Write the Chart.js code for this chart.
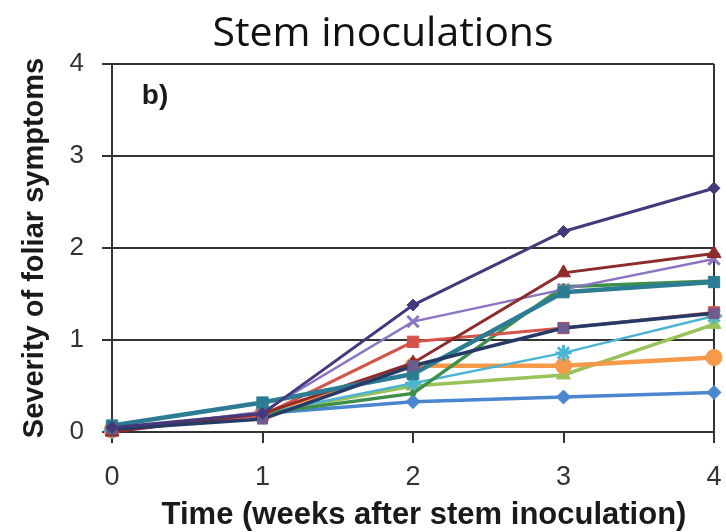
<!DOCTYPE html>
<html>
<head>
<meta charset="utf-8">
<script src="https://cdn.jsdelivr.net/npm/chart.js@4.4.1/dist/chart.umd.min.js"></script>
<style>
  html, body { margin: 0; padding: 0; background: #fff; }
  #wrap { width: 726px; height: 532px; }
</style>
</head>
<body>
<div id="wrap"><canvas id="ctx" width="726" height="532"></canvas></div>
<script>
// weeks after stem inoculation
const weeks = [0, 1, 2, 3, 4];
const yTicks = [0, 1, 2, 3, 4];

// severity values, one array per line
const navyDiamond = [0.05, 0.2, 1.38, 2.18, 2.65];
const navySquare = [0.03, 0.14, 0.72, 1.13, 1.29];
const tealSquare = [0.07, 0.32, 0.63, 1.52, 1.63];
const maroonTriangle = [0.0, 0.2, 0.75, 1.73, 1.94];
const purpleCross = [0.02, 0.22, 1.2, 1.55, 1.88];
const redSquare = [0.02, 0.18, 0.98, 1.13, 1.3];
const greenLine = [0.02, 0.2, 0.42, 1.58, 1.64];
const cyanStar = [0.02, 0.2, 0.53, 0.86, 1.26];
const orangeCircle = [0.02, 0.2, 0.72, 0.72, 0.81];
const limeTriangle = [0.02, 0.2, 0.5, 0.62, 1.17];
const blueDiamond = [0.02, 0.2, 0.33, 0.38, 0.43];

const toPoints = (vals) => vals.map((v, i) => ({ x: weeks[i], y: v }));

// first dataset ends up on top
const series = [
  { data: navyDiamond, color: "#45397c", style: "rectRot", r: 6, w: 3 },
  { data: navySquare, color: "#263a68", fill: "#6d5d8e", style: "rect", r: 7, w: 3.5 },
  { data: tealSquare, color: "#2c7d93", style: "rect", r: 8, w: 4.5 },
  { data: maroonTriangle, color: "#8e2b2b", style: "triangle", r: 8, w: 3 },
  { data: purpleCross, color: "#8b74c2", style: "crossRot", r: 8, w: 2.5 },
  { data: redSquare, color: "#d4544c", style: "rect", r: 8, w: 3 },
  { data: greenLine, color: "#3f8f4c", style: "circle", r: 3, w: 3.5 },
  { data: cyanStar, color: "#4db3d3", style: "star", r: 8, w: 2.5 },
  { data: orangeCircle, color: "#f5994a", style: "circle", r: 8, w: 4.5 },
  { data: limeTriangle, color: "#98c25a", style: "triangle", r: 8, w: 3.5 },
  { data: blueDiamond, color: "#4a86cf", style: "rectRot", r: 7, w: 3.5 },
];

// chart title, panel letter and x axis title
const textPlugin = {
  id: "texts",
  afterDraw(chart) {
    const c = chart.ctx;
    c.save();
    c.fillStyle = "#111";
    c.textAlign = "center";
    c.textBaseline = "middle";
    c.font = "41px 'Open Sans'";
    c.fillText("Stem inoculations", 383, 34);
    c.font = "bold 28px 'Liberation Sans'";
    c.fillStyle = "#1a1a1a";
    c.fillText("b)", 155, 96);
    c.font = "bold 31px 'Liberation Sans'";
    c.fillText("Time (weeks after stem inoculation)", 424, 515);
    c.restore();
  },
};

new Chart(document.getElementById("ctx"), {
  type: "line",
  data: {
    datasets: series.map((s) => ({
      data: toPoints(s.data),
      borderColor: s.color,
      backgroundColor: s.fill || s.color,
      pointBackgroundColor: s.fill || s.color,
      pointBorderColor: s.fill || s.color,
      borderWidth: s.w,
      pointStyle: s.style,
      pointRadius: s.r,
      pointBorderWidth: s.style === "crossRot" || s.style === "star" ? 3 : 1,
      tension: 0,
      clip: false,
    })),
  },
  options: {
    responsive: false,
    animation: false,
    layout: { autoPadding: false, padding: { left: 0, right: 12, top: 64, bottom: 0 } },
    plugins: {
      legend: { display: false },
      tooltip: { enabled: false },
    },
    scales: {
      x: {
        type: "linear",
        min: 0,
        max: 4,
        afterFit: (scale) => {
          scale.height = 100;
          scale.paddingLeft = 0;
          scale.paddingRight = 0;
        },
        ticks: {
          stepSize: 1,
          padding: 18,
          color: "#333",
          font: { family: "'Liberation Sans'", size: 27 },
        },
        grid: {
          color: (ctx) => (ctx.tick && ctx.tick.value === 4 ? "#333" : "rgba(0,0,0,0)"),
          tickColor: "#333",
          lineWidth: 2,
          tickLength: 11,
        },
        border: { display: true, color: "#333", width: 2 },
      },
      y: {
        min: 0,
        max: 4,
        afterFit: (scale) => { scale.width = 112; },
        afterBuildTicks: (scale) => { scale.ticks = yTicks.map((v) => ({ value: v })); },
        ticks: {
          padding: 18,
          color: "#333",
          font: { family: "'Liberation Sans'", size: 26 },
        },
        grid: {
          color: "#333",
          lineWidth: 2,
          tickLength: 10,
        },
        border: { display: true, color: "#333", width: 2 },
        title: {
          display: true,
          text: "Severity of foliar symptoms",
          color: "#1a1a1a",
          padding: { top: 18, bottom: 0 },
          font: { family: "'Liberation Sans'", size: 29, weight: "bold" },
        },
      },
    },
  },
  plugins: [textPlugin],
});
</script>
</body>
</html>
